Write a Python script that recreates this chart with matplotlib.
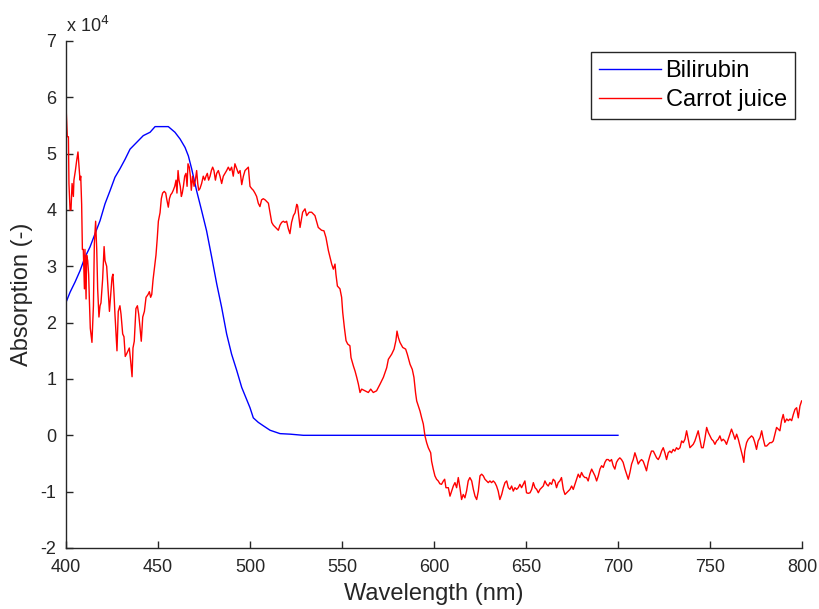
import matplotlib.pyplot as plt
from matplotlib.ticker import FuncFormatter

plt.rcParams['font.family'] = ['Liberation Sans', 'DejaVu Sans']

# absorption in units of 1e4
bili_nm = [400.0, 402.2, 404.9, 407.6, 410.3, 413.0, 415.8, 418.5, 421.2, 423.9,
           426.6, 429.3, 432.1, 434.8, 438.4, 442.0, 445.7, 448.4, 452.0, 455.6,
           459.2, 462.0, 464.7, 466.5, 468.3, 471.0, 473.7, 476.4, 479.2, 481.9,
           484.6, 487.3, 490.0, 492.8, 495.5, 500.0, 501.8, 504.5, 507.2, 510.9,
           516.3, 522.0, 529.0, 700.0]
bili_abs = [2.36, 2.54, 2.72, 2.92, 3.16, 3.34, 3.58, 3.81, 4.11, 4.34,
            4.58, 4.73, 4.90, 5.08, 5.20, 5.32, 5.38, 5.48, 5.48, 5.48,
            5.38, 5.26, 5.11, 4.96, 4.73, 4.34, 3.99, 3.63, 3.16, 2.69,
            2.27, 1.80, 1.44, 1.15, 0.85, 0.49, 0.31, 0.23, 0.17, 0.09,
            0.03, 0.02, 0.0, 0.0]

carrot_nm = [
    400.0, 400.7, 401.3, 401.6, 402.2, 402.7, 403.3, 404.0, 404.3, 405.1,
    405.8, 406.5, 407.1, 407.6, 408.0, 408.5, 408.9, 409.4, 410.0, 410.3,
    410.9, 411.2, 411.8, 412.3, 412.7, 413.2, 414.1, 414.9, 415.4, 416.1,
    416.7, 417.2, 417.9, 418.5, 419.0, 419.9, 420.7, 421.2, 422.1, 423.0,
    423.6, 424.3, 425.0, 425.5, 426.1, 426.6, 427.2, 427.7, 428.4, 429.3,
    429.9, 430.8, 431.5, 432.2, 433.0, 433.7, 434.4, 435.1, 435.9, 436.4,
    437.1, 438.0, 438.8, 439.5, 440.2, 440.9, 441.7, 442.6, 443.5, 444.6,
    445.3, 446.0, 446.6, 447.3, 448.0, 448.9, 449.6, 450.2, 451.1, 451.8,
    452.5, 453.4, 454.2, 454.7, 455.6, 456.2, 456.9, 457.6, 458.3, 459.1,
    459.8, 460.3, 460.9, 461.4, 462.1, 462.7, 463.2, 463.8, 464.5, 465.2,
    465.8, 466.3, 467.0, 467.6, 468.1, 468.8, 469.6, 470.3, 471.0, 471.6,
    472.1, 472.8, 473.7, 474.6, 475.4, 476.1, 476.8, 477.5, 478.3, 479.0,
    479.7, 480.4, 481.2, 481.9, 482.8, 483.7, 484.6, 485.5, 486.4, 487.3,
    488.2, 489.1, 490.0, 490.9, 491.8, 492.8, 493.7, 494.6, 495.5, 496.4,
    497.3, 498.2, 499.1, 500.0, 500.9, 501.8, 502.7, 503.6, 504.5, 505.4,
    506.3, 507.2, 508.2, 509.1, 510.0, 510.9, 511.8, 512.7, 513.6, 514.5,
    515.4, 516.3, 517.2, 518.1, 519.0, 519.9, 520.8, 521.7, 522.6, 523.6,
    524.5, 525.4, 525.9, 527.2, 528.6, 529.9, 530.8, 532.2, 533.5, 535.3,
    537.1, 538.9, 540.2, 541.3, 542.6, 543.5, 544.4, 545.3, 546.2, 546.7,
    547.5, 548.9, 549.8, 550.4, 551.3, 552.2, 553.1, 554.3, 554.9, 556.2,
    557.1, 558.0, 558.9, 559.8, 560.7, 562.5, 564.3, 565.6, 567.0, 568.8,
    570.7, 572.5, 574.3, 575.2, 577.0, 578.3, 579.3, 579.9, 580.6, 581.5,
    583.0, 584.6, 585.5, 587.0, 588.2, 589.1, 590.0, 590.6, 591.5, 592.4,
    593.3, 594.2, 595.1, 596.0, 596.9, 598.2, 598.7, 599.6, 600.5, 601.4,
    602.3, 603.2, 604.1, 605.1, 605.8, 606.5, 607.8, 608.7, 609.6, 610.5,
    611.4, 612.3, 613.2, 614.1, 615.0, 615.9, 616.8, 617.7, 618.6, 619.5,
    620.5, 621.4, 622.3, 623.2, 624.1, 625.0, 625.9, 626.8, 627.7, 628.6,
    629.5, 630.4, 631.3, 632.2, 633.1, 634.0, 634.9, 635.8, 636.8, 637.7,
    638.6, 639.5, 640.4, 641.3, 642.2, 643.1, 644.0, 644.9, 645.8, 646.7,
    647.6, 648.5, 649.4, 650.3, 651.2, 652.2, 653.1, 654.0, 654.9, 655.8,
    656.7, 657.6, 658.5, 659.4, 660.3, 661.2, 662.1, 663.0, 663.9, 664.8,
    665.7, 666.6, 667.5, 668.4, 669.3, 670.3, 671.2, 672.1, 673.0, 673.9,
    674.8, 675.7, 676.6, 677.5, 678.4, 679.3, 680.2, 681.1, 682.0, 682.9,
    683.8, 684.7, 685.7, 686.6, 687.5, 688.4, 689.3, 690.2, 691.1, 692.0,
    692.9, 693.8, 694.7, 695.6, 696.5, 697.4, 698.3, 699.2, 700.1, 701.0,
    701.9, 702.8, 703.8, 704.7, 705.6, 706.5, 707.4, 708.3, 709.2, 710.1,
    711.0, 711.9, 712.8, 713.7, 714.6, 715.5, 716.4, 717.3, 718.2, 719.2,
    720.1, 721.0, 721.9, 722.8, 723.7, 724.6, 725.5, 726.4, 727.3, 728.2,
    729.1, 730.0, 730.9, 731.8, 732.7, 733.7, 734.6, 735.5, 736.4, 737.3,
    738.2, 739.1, 740.0, 740.9, 741.8, 742.7, 743.6, 744.5, 745.4, 746.3,
    747.2, 748.2, 749.1, 750.0, 750.9, 751.8, 752.7, 753.6, 754.5, 755.4,
    756.3, 757.2, 758.1, 759.0, 759.9, 760.8, 761.7, 762.7, 763.6, 764.5,
    765.4, 766.3, 767.7, 768.4, 768.9, 769.9, 770.8, 771.7, 772.6, 773.5,
    774.4, 775.3, 776.2, 777.2, 778.1, 779.0, 779.9, 780.8, 781.7, 782.6,
    783.5, 784.4, 785.3, 786.2, 787.1, 788.0, 788.9, 789.8, 790.7, 791.7,
    792.6, 793.5, 794.4, 795.3, 796.2, 797.1, 798.0, 798.9, 799.8]
carrot_abs = [
    5.85, 5.30, 5.30, 4.47, 4.00, 4.00, 4.47, 4.24, 4.53, 4.70,
    4.88, 5.03, 4.76, 4.53, 4.60, 4.10, 3.30, 3.30, 2.60, 3.30,
    2.42, 3.20, 3.10, 2.86, 2.40, 1.90, 1.65, 2.30, 3.40, 3.80,
    3.30, 2.60, 2.10, 2.30, 2.35, 2.77, 3.35, 3.10, 3.00, 2.50,
    2.20, 2.50, 2.80, 2.86, 2.50, 2.15, 1.80, 1.50, 2.20, 2.30,
    2.15, 1.80, 1.75, 1.40, 1.45, 1.50, 1.55, 1.33, 1.04, 1.55,
    1.67, 2.25, 2.30, 2.15, 1.92, 1.67, 2.10, 2.20, 2.45, 2.50,
    2.55, 2.45, 2.50, 2.76, 2.95, 3.20, 3.50, 3.80, 3.95, 4.20,
    4.30, 4.33, 4.30, 4.20, 4.05, 4.20, 4.27, 4.30, 4.35, 4.42,
    4.53, 4.30, 4.70, 4.53, 4.42, 4.24, 4.30, 4.42, 4.60, 4.65,
    4.42, 4.82, 4.76, 4.60, 4.35, 4.60, 4.42, 4.53, 4.70, 4.47,
    4.35, 4.38, 4.47, 4.60, 4.53, 4.60, 4.65, 4.53, 4.60, 4.70,
    4.76, 4.70, 4.53, 4.65, 4.70, 4.60, 4.47, 4.60, 4.65, 4.70,
    4.76, 4.70, 4.76, 4.60, 4.82, 4.73, 4.65, 4.70, 4.45, 4.60,
    4.70, 4.73, 4.76, 4.42, 4.38, 4.35, 4.30, 4.24, 4.12, 4.06,
    4.18, 4.20, 4.18, 4.15, 4.12, 3.95, 3.78, 3.73, 3.70, 3.67,
    3.64, 3.73, 3.78, 3.80, 3.78, 3.80, 3.67, 3.58, 3.78, 3.90,
    3.95, 4.10, 4.07, 3.69, 3.96, 4.02, 3.90, 3.96, 3.96, 3.90,
    3.69, 3.64, 3.63, 3.51, 3.28, 3.16, 3.04, 2.95, 3.04, 2.86,
    2.65, 2.60, 2.45, 2.18, 1.91, 1.68, 1.62, 1.59, 1.38, 1.23,
    1.14, 1.03, 0.91, 0.76, 0.82, 0.79, 0.76, 0.82, 0.76, 0.79,
    0.91, 1.03, 1.20, 1.35, 1.44, 1.53, 1.68, 1.85, 1.74, 1.65,
    1.56, 1.53, 1.44, 1.26, 1.17, 1.03, 0.75, 0.61, 0.52, 0.43,
    0.31, 0.20, -0.01, -0.13, -0.22, -0.31, -0.46, -0.60, -0.72, -0.78,
    -0.81, -0.86, -0.87, -0.81, -0.78, -0.93, -0.93, -1.08, -0.99, -0.90,
    -0.84, -0.93, -0.75, -0.93, -1.14, -1.05, -1.11, -0.99, -0.81, -0.75,
    -0.81, -0.96, -1.08, -1.14, -0.99, -0.72, -0.69, -0.72, -0.78, -0.81,
    -0.84, -0.81, -0.84, -0.81, -0.84, -0.90, -0.99, -1.14, -1.05, -0.93,
    -0.84, -0.81, -0.93, -0.96, -0.90, -0.99, -0.93, -0.96, -0.93, -0.87,
    -0.93, -0.87, -0.81, -1.02, -1.03, -1.02, -0.96, -0.84, -0.93, -0.96,
    -1.02, -0.96, -0.93, -0.90, -0.81, -0.87, -0.90, -0.84, -0.87, -0.78,
    -0.81, -0.93, -0.84, -0.81, -0.75, -0.96, -1.05, -1.02, -0.99, -0.96,
    -0.90, -0.96, -0.87, -0.78, -0.69, -0.75, -0.66, -0.72, -0.75, -0.75,
    -0.81, -0.69, -0.60, -0.66, -0.72, -0.81, -0.72, -0.60, -0.54, -0.57,
    -0.48, -0.43, -0.43, -0.46, -0.43, -0.54, -0.60, -0.48, -0.43, -0.40,
    -0.43, -0.48, -0.60, -0.69, -0.78, -0.66, -0.51, -0.43, -0.31, -0.40,
    -0.51, -0.46, -0.43, -0.46, -0.54, -0.63, -0.48, -0.37, -0.28, -0.28,
    -0.34, -0.40, -0.43, -0.37, -0.28, -0.22, -0.31, -0.43, -0.31, -0.28,
    -0.31, -0.25, -0.28, -0.22, -0.25, -0.22, -0.10, -0.13, -0.07, 0.08,
    -0.07, -0.22, -0.19, -0.16, -0.10, -0.01, 0.08, -0.07, -0.22, -0.22,
    -0.07, 0.14, 0.05, -0.01, -0.07, -0.10, -0.16, -0.10, -0.07, -0.01,
    -0.10, -0.07, -0.10, -0.16, -0.07, 0.02, 0.11, 0.02, -0.07, 0.02,
    -0.07, -0.19, -0.37, -0.48, -0.28, -0.13, -0.07, -0.04, -0.01, -0.04,
    -0.13, -0.25, -0.10, -0.04, 0.08, -0.07, -0.19, -0.19, -0.16, -0.13,
    -0.13, -0.10, 0.02, 0.14, 0.11, 0.08, 0.26, 0.37, 0.23, 0.29,
    0.26, 0.29, 0.26, 0.37, 0.46, 0.49, 0.31, 0.52, 0.61, 0.55,
    0.49]

n = min(len(carrot_nm), len(carrot_abs))
carrot_nm = carrot_nm[:n]
carrot_abs = carrot_abs[:n]

fig = plt.figure(figsize=(8.19, 6.09), dpi=100)
ax = fig.add_axes([0.0806, 0.1002, 0.8986, 0.8325])

ax.plot(bili_nm, [v * 1e4 for v in bili_abs], color='#0000ff', lw=1.0, label='Bilirubin')
ax.plot(carrot_nm, [v * 1e4 for v in carrot_abs], color='#ff0000', lw=1.0, label='Carrot juice')

ax.set_xlim(400, 800)
ax.set_ylim(-2e4, 7e4)
ax.set_xticks(range(400, 801, 50))
ax.set_yticks([i * 1e4 for i in range(-2, 8)])
ax.yaxis.set_major_formatter(FuncFormatter(lambda v, p: f"{v / 1e4:g}"))

for s in ('top', 'right'):
    ax.spines[s].set_visible(False)
for s in ('left', 'bottom'):
    ax.spines[s].set_color('#262626')
    ax.spines[s].set_linewidth(1.0)
ax.tick_params(direction='in', length=5, width=1.0, color='#262626',
               labelsize=13, labelcolor='#262626')
ax.tick_params(axis='x', pad=8)
ax.tick_params(axis='y', pad=7)

ax.set_xlabel('Wavelength (nm)', fontsize=17, color='#262626', labelpad=5)
ax.set_ylabel('Absorption (-)', fontsize=17, color='#262626', labelpad=5)
ax.text(0.0, 1.01, 'x 10$^4$', transform=ax.transAxes, fontsize=13,
        color='#262626', ha='left', va='bottom')

leg = ax.legend(loc='upper right', fontsize=17, handlelength=2.6,
                fancybox=False, framealpha=1, borderpad=0.35,
                labelspacing=0.27, handletextpad=0.2, borderaxespad=0,
                bbox_to_anchor=(0.9905, 0.978))
leg.get_frame().set_edgecolor('#262626')
leg.get_frame().set_linewidth(1.0)

fig.savefig('out.png', dpi=100)
